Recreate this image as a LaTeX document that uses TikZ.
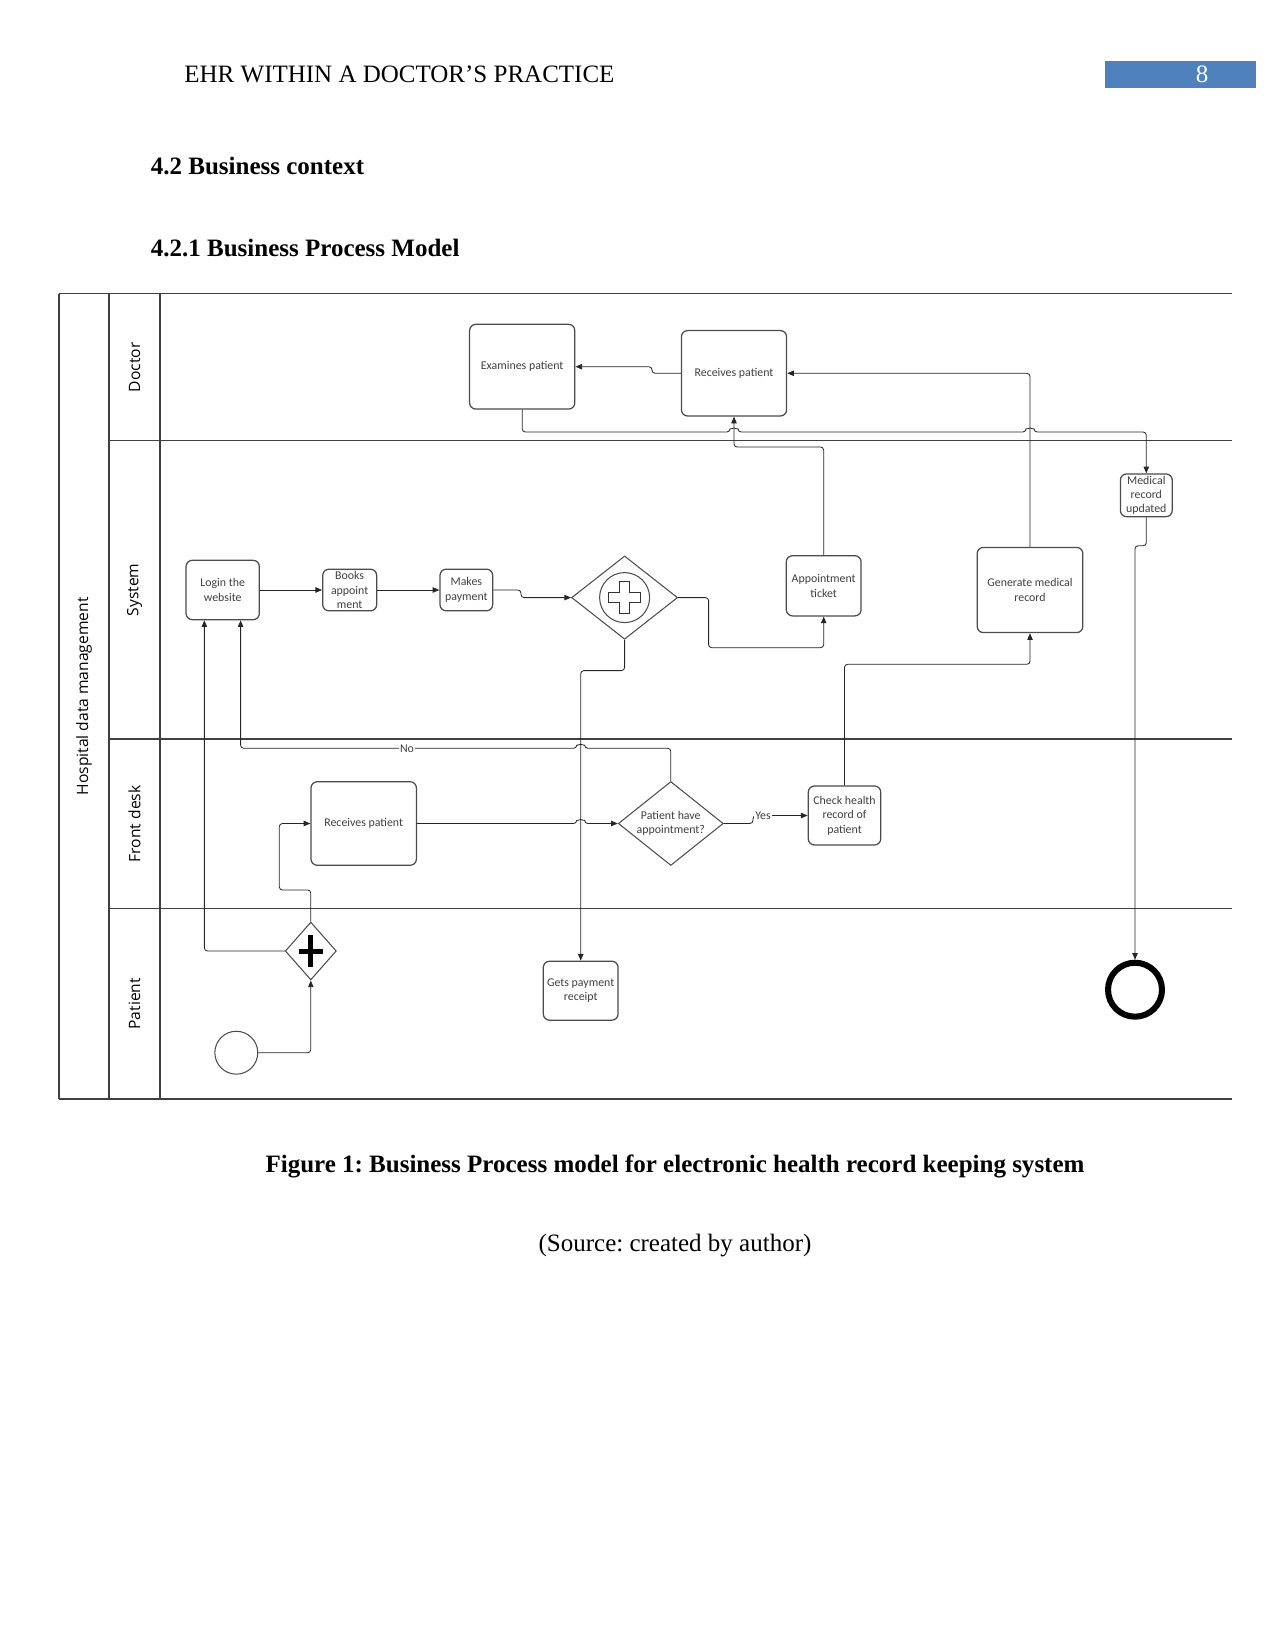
\documentclass[tikz,border=0pt]{standalone}
\usepackage{fontspec}
\setmainfont{Liberation Serif}
\newfontfamily\lanefont{Open Sans}
\newfontfamily\taskfont{Carlito}
\usepackage{tikz}
\usetikzlibrary{arrows.meta,positioning,shapes.geometric}
\definecolor{headblue}{RGB}{79,129,189}
\definecolor{ink}{RGB}{64,64,64}
\frenchspacing

\begin{document}
\begin{tikzpicture}[x=0.48pt, y=-0.48pt, font=\fontsize{12}{14}\selectfont,
  pool/.style={draw=black!75, line width=0.7pt},
  lanelabel/.style={rotate=90, font=\lanefont\fontsize{7.5}{9}\selectfont},
  task/.style={draw=black!70, line width=0.6pt, fill=white, rounded corners=3pt, align=center, inner sep=1pt, text=ink, font=\taskfont\fontsize{5.7}{6.9}\selectfont},
  gateway/.style={diamond, draw=black!70, line width=0.5pt, fill=white, inner sep=0pt, align=center, text=ink, font=\taskfont\fontsize{5.7}{6.9}\selectfont},
  flow/.style={draw=black!85, line width=0.4pt, rounded corners=1.5pt, -{Triangle[length=3.2pt, width=2.6pt]}},
  guard/.style={fill=white, inner sep=0.6pt, text=ink, font=\taskfont\fontsize{5.7}{6.9}\selectfont}]
  \useasboundingbox (0,0) rectangle (1275,1651);

  \node[anchor=base west, inner sep=0pt] (runhead) at (184,83) {EHR WITHIN A DOCTOR’S PRACTICE};
  \node[fill=headblue, minimum width=72.3pt, minimum height=13.2pt, inner sep=0pt] (pagebox) at (1180.7,74.7) {};
  \node[anchor=base, text=white] (pagenum) at (1202,83) {8};
  \node[anchor=base west, inner sep=0pt, font=\fontsize{12}{14}\selectfont\bfseries] (sec) at (150.5,174.2) {4.2 Business context};
  \node[anchor=base west, inner sep=0pt, font=\fontsize{12}{14}\selectfont\bfseries] (subsec) at (150.5,256.7) {4.2.1 Business Process Model};

  \draw[pool] (59,293.7) -- (1232,293.7) (59,1099) -- (1232,1099);
  \draw[pool] (59,293.7) -- (59,1099) (109,293.7) -- (109,1099) (160,293.7) -- (160,1099);
  \foreach \y in {440.7,739,908.6} \draw[pool] (109,\y) -- (1232,\y);
  \node[lanelabel] (pool) at (84,696.4) {Hospital data management};
  \node[lanelabel] (doctor) at (134.5,367.2) {Doctor};
  \node[lanelabel] (system) at (134.5,589.9) {System};
  \node[lanelabel] (frontdesk) at (134.5,823.8) {Front desk};
  \node[lanelabel] (patient) at (134.5,1003.8) {Patient};

  \node[task, minimum width=50.5pt, minimum height=40.7pt] (exam) at (522.2,366.7) {Examines patient};
  \node[task, minimum width=50.5pt, minimum height=41pt] (recvdoc) at (734,373.3) {Receives patient};

  \node[task, minimum width=35.2pt, minimum height=28.5pt] (login) at (222.7,590) {Login the\\website};
  \node[task, minimum width=25.9pt, minimum height=20pt, inner ysep=0pt, right=29.8pt of login] (books) {Books\\appoint\\ment};
  \node[task, minimum width=25.3pt, minimum height=20pt, right=29.8pt of books] (pay) {Makes\\payment};
  \node[gateway, minimum width=50.9pt, minimum height=40pt] (fork) at (624.6,597.6) {};
  \draw[black!70, line width=0.5pt] (fork) circle[radius=25];
  \begin{scope}[shift={(fork.center)}]
    \draw[black!80, line width=0.5pt] (-16,-5) -- (-5,-5) -- (-5,-16) -- (5,-16) -- (5,-5) -- (16,-5) -- (16,5) -- (5,5) -- (5,16) -- (-5,16) -- (-5,5) -- (-16,5) -- cycle;
  \end{scope}
  \node[task, minimum width=35.9pt, minimum height=28.9pt] (ticket) at (823.7,585.8) {Appointment\\ticket};
  \node[task, minimum width=50.7pt, minimum height=40.9pt] (genrec) at (1030,590) {Generate medical\\record};
  \node[task, minimum width=24.9pt, minimum height=20.5pt, inner sep=0pt] (medrec) at (1146.3,495.3) {Medical\\record\\updated};

  \node[task, minimum width=50.6pt, minimum height=40.1pt] (recvfd) at (363.7,823.5) {Receives patient};
  \node[gateway, shape aspect=1.25, minimum width=50.4pt, minimum height=40.3pt] (decide) at (670.8,823.5) {Patient have\\appointment?};
  \node[task, minimum width=34.8pt, minimum height=28.3pt] (check) at (844.5,815.5) {Check health\\record of\\patient};

  \node[circle, draw=black!70, line width=0.5pt, minimum size=20.6pt, inner sep=0pt] (start) at (236.3,1052.7) {};
  \node[gateway, minimum width=24.5pt, minimum height=27.8pt] (join) at (310.8,951) {};
  \draw[line width=2.4pt] ([xshift=-5.8pt]join.center) -- ([xshift=5.8pt]join.center) ([yshift=-7.9pt]join.center) -- ([yshift=7.9pt]join.center);
  \node[task, minimum width=35.9pt, minimum height=28.3pt] (receipt) at (580.7,990.7) {Gets payment\\receipt};
  \node[circle, draw=black, line width=2.9pt, minimum size=25.9pt, inner sep=0pt] (finish) at (1135,989.7) {};

  \draw[flow] (start) -| (join);
  \draw[flow] (join) -| ([xshift=-8.8pt]login.south);
  \draw[flow] (join) |- (279.3,890) |- (recvfd);
  \draw[flow] (recvfd) -- (576.7,823.5) arc[start angle=180, end angle=360, radius=4] -- (decide);
  \draw[flow] (decide) |- (584.7,748.3) arc[start angle=0, end angle=-180, radius=4] -| ([xshift=8.6pt]login.south);
  \node[guard] (nolabel) at (407,748.3) {No};
  \draw[flow] (decide) -- (753,823.5) |- (check);
  \node[guard] (yeslabel) at (763,815.5) {Yes};
  \draw[flow] (check) |- (genrec.south |- 0,664.3) -- (genrec);
  \draw[flow] (login) -- (books); \draw[flow] (books) -- (pay);
  \draw[flow] (pay) -- (521,590) |- (fork);
  \draw[flow] (fork) -| (708.6,647.7) -| (ticket);
  \draw[flow] (fork) |- (600,670.6) -| (receipt);
  \draw[flow] (ticket) |- (760,447) -| (recvdoc);
  \draw[flow] (genrec) |- (recvdoc);
  \draw[flow] (recvdoc) -- (652,373.3) |- (exam);
  \draw[flow] (exam) |- (730,432) arc[start angle=180, end angle=360, radius=4] -- (1026,432) arc[start angle=180, end angle=360, radius=4] -| (medrec);
  \draw[flow] (medrec.south) -- ++(0,28.5) -| (finish);

  \node[anchor=base, font=\fontsize{12}{14}\selectfont\bfseries] (caption) at (675,1172.6) {Figure 1: Business Process model for electronic health record keeping system};
  \node[anchor=base] (source) at (675,1251.5) {(Source: created by author)};
\end{tikzpicture}
\end{document}
